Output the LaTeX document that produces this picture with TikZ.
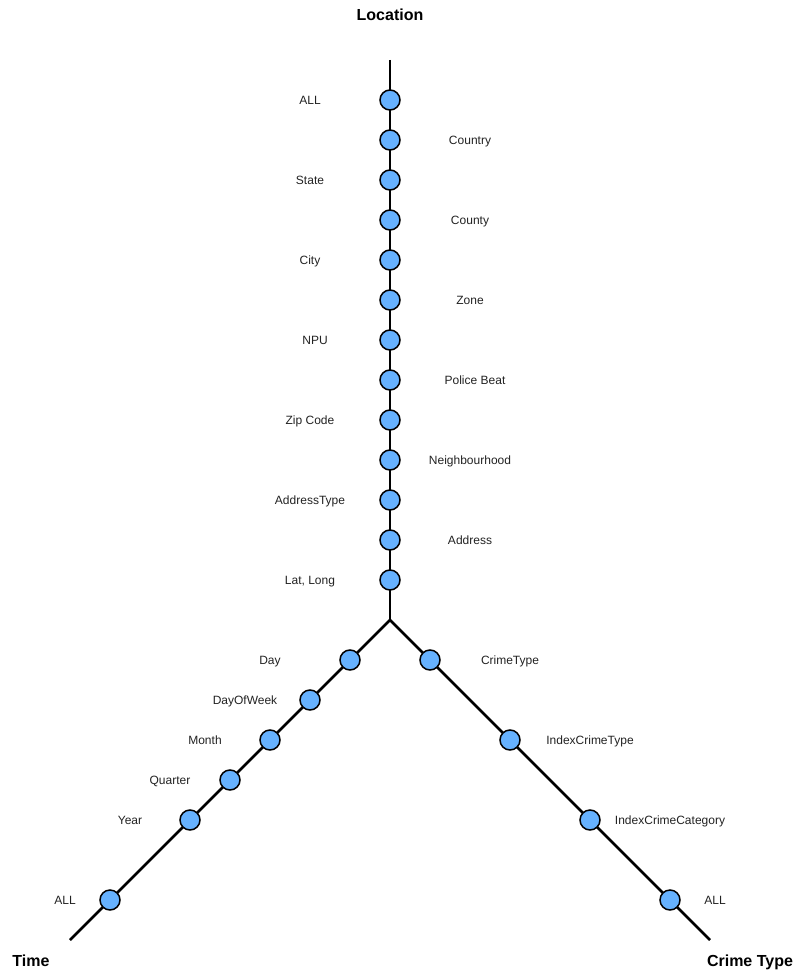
\documentclass[tikz,border=0pt]{standalone}
\usepackage{fontspec}
\setmainfont{Liberation Sans}
\definecolor{dotblue}{HTML}{66B2FF}
\definecolor{lbl}{HTML}{222222}
\begin{document}
\begin{tikzpicture}[x=1pt,y=-1pt,
  dot/.style={circle,draw=black,fill=dotblue,line width=1.5pt,minimum size=20pt,inner sep=0pt},
  lab/.style={font=\fontsize{12}{14}\selectfont,text=lbl,text height=8.6pt,text depth=0pt,inner sep=0pt},
  ttl/.style={font=\fontsize{16}{19}\selectfont\bfseries,text height=11.5pt,text depth=0pt,inner sep=0pt},
  axis/.style={line width=2.5pt,line cap=butt}]
\useasboundingbox (0,0) rectangle (806,976);
\coordinate (top) at (390,60);
\coordinate (c) at (390,620);
\coordinate (tl) at (70,940);
\coordinate (tr) at (710,940);
\draw[axis] (top) -- (c);
\draw[axis] (c) -- (tl);
\draw[axis] (c) -- (tr);
% vertical nodes
\foreach \n/\y in {v1/100,v2/140,v3/180,v4/220,v5/260,v6/300,v7/340,v8/380,v9/420,v10/460,v11/500,v12/540,v13/580}
  \node[dot] (\n) at (390,\y) {};
\node[dot] (t1) at (350,660) {};
\node[dot] (t2) at (310,700) {};
\node[dot] (t3) at (270,740) {};
\node[dot] (t4) at (230,780) {};
\node[dot] (t5) at (190,820) {};
\node[dot] (t6) at (110,900) {};
\node[dot] (r1) at (430,660) {};
\node[dot] (r2) at (510,740) {};
\node[dot] (r3) at (590,820) {};
\node[dot] (r4) at (670,900) {};
% labels
\node[lab] (l1) at (310,100) {ALL};
\node[lab] (l2) at (470,140) {Country};
\node[lab] (l3) at (310,180) {State};
\node[lab] (l4) at (470,220) {County};
\node[lab] (l5) at (310,260) {City};
\node[lab] (l6) at (470,300) {Zone};
\node[lab] (l7) at (315,340) {NPU};
\node[lab] (l8) at (475,380) {Police Beat};
\node[lab] (l9) at (310,420) {Zip Code};
\node[lab] (l10) at (470,460) {Neighbourhood};
\node[lab] (l11) at (310,500) {AddressType};
\node[lab] (l12) at (470,540) {Address};
\node[lab] (l13) at (310,580) {Lat, Long};
\node[lab] (lt1) at (270,660) {Day};
\node[lab] (lt2) at (245,700) {DayOfWeek};
\node[lab] (lt3) at (205,740) {Month};
\node[lab] (lt4) at (170,780) {Quarter};
\node[lab] (lt5) at (130,820) {Year};
\node[lab] (lt6) at (65,900) {ALL};
\node[lab] (lr1) at (510,660) {CrimeType};
\node[lab] (lr2) at (590,740) {IndexCrimeType};
\node[lab] (lr3) at (670,820) {IndexCrimeCategory};
\node[lab] (lr4) at (715,900) {ALL};
% titles
\node[ttl] (loc) at (390,15) {Location};
\node[ttl] (time) at (31,961) {Time};
\node[ttl] (ct) at (750,961) {Crime Type};
\end{tikzpicture}
\end{document}
